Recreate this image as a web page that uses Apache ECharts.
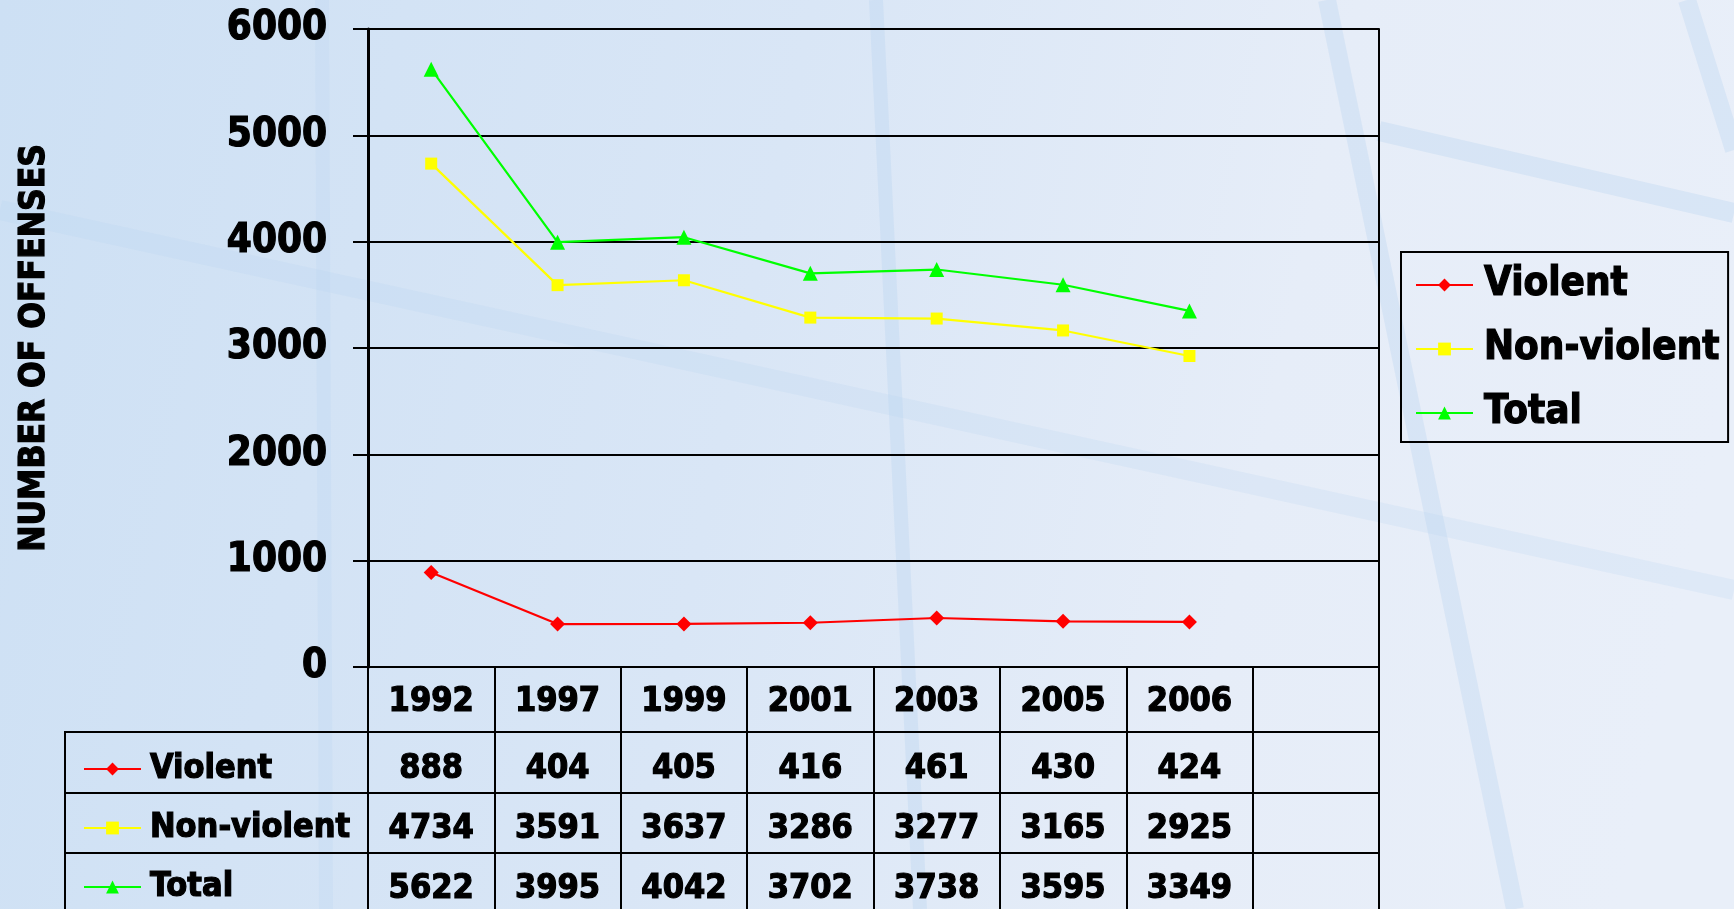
<!DOCTYPE html>
<html>
<head>
<meta charset="utf-8">
<script src="https://cdn.jsdelivr.net/npm/echarts@6/dist/echarts.min.js"></script>
<style>
  html, body { margin: 0; padding: 0; }
  #chart { width: 1734px; height: 909px; }
</style>
</head>
<body>
<div id="chart"></div>
<script>
// data
const years = ['1992', '1997', '1999', '2001', '2003', '2005', '2006', ''];
const violent = [888, 404, 405, 416, 461, 430, 424];
const nonViolent = [4734, 3591, 3637, 3286, 3277, 3165, 2925];
const total = [5622, 3995, 4042, 3702, 3738, 3595, 3349];
const seriesNames = ['Violent', 'Non-violent', 'Total'];
const seriesColors = ['#ff0000', '#ffff00', '#00ff00'];
const seriesSymbols = ['diamond', 'rect', 'triangle'];
const symbolSizes = [15, 12, 15];

const FONT = '"DejaVu Sans Condensed", "DejaVu Sans", sans-serif';

const chart = echarts.init(document.getElementById('chart'));

// one axis per table row, offsets match the row heights
const tableRows = [
  { data: years, offset: 0, tick: 65, margin: 35 },
  { data: violent.map(String).concat(''), offset: 65, tick: 61, margin: 37 },
  { data: nonViolent.map(String).concat(''), offset: 126, tick: 60, margin: 36 },
  { data: total.map(String).concat(''), offset: 186, tick: 70, margin: 36 }
];

const xAxes = tableRows.map((r) => ({
  type: 'category',
  position: 'bottom',
  offset: r.offset,
  data: r.data,
  boundaryGap: true,
  axisLine: { show: true, onZero: false, lineStyle: { color: '#000', width: 2 } },
  axisTick: { show: true, interval: 0, length: r.tick, lineStyle: { color: '#000', width: 2 } },
  axisLabel: {
    interval: 0,
    color: '#000', fontFamily: FONT, fontWeight: 'bold', fontSize: 34,
    margin: r.margin, verticalAlign: 'middle',
    textBorderColor: '#000', textBorderWidth: 1.2
  },
  splitLine: { show: false }
}));

const dataSets = [violent, nonViolent, total];

const series = dataSets.map((d, i) => ({
  name: seriesNames[i],
  type: 'line',
  data: d,
  xAxisIndex: 0,
  yAxisIndex: 0,
  symbol: seriesSymbols[i],
  symbolSize: symbolSizes[i],
  color: seriesColors[i],
  lineStyle: { color: seriesColors[i], width: 2.2 },
  itemStyle: { color: seriesColors[i] },
  z: 5
}));

const frame = 'rgba(178, 210, 240, 0.3)';

chart.setOption({
  animation: false,
  backgroundColor: {
    type: 'linear', x: 0, y: 0, x2: 1, y2: 0.4,
    colorStops: [
      { offset: 0, color: '#cde0f4' },
      { offset: 0.45, color: '#d9e6f6' },
      { offset: 0.75, color: '#e6edf8' },
      { offset: 1, color: '#e9eff9' }
    ]
  },
  graphic: [
    // faint window frames of the backdrop
    { type: 'line', z: -10, shape: { x1: 876, y1: 0, x2: 920, y2: 909 }, style: { stroke: frame, lineWidth: 14 } },
    { type: 'line', z: -10, shape: { x1: 322, y1: 0, x2: 326, y2: 909 }, style: { stroke: 'rgba(178,210,240,0.2)', lineWidth: 14 } },
    { type: 'line', z: -10, shape: { x1: 1327, y1: 0, x2: 1515, y2: 909 }, style: { stroke: frame, lineWidth: 18 } },
    { type: 'line', z: -10, shape: { x1: 1687, y1: 0, x2: 1734, y2: 150 }, style: { stroke: frame, lineWidth: 18 } },
    { type: 'line', z: -10, shape: { x1: 1379, y1: 131, x2: 1734, y2: 213 }, style: { stroke: frame, lineWidth: 20 } },
    { type: 'line', z: -10, shape: { x1: 0, y1: 210, x2: 1734, y2: 590 }, style: { stroke: 'rgba(178,210,240,0.2)', lineWidth: 20 } },
    // left column of the data table
    { type: 'line', z: 3, shape: { x1: 64, y1: 732, x2: 368, y2: 732 }, style: { stroke: '#000', lineWidth: 2 } },
    { type: 'line', z: 3, shape: { x1: 64, y1: 793, x2: 368, y2: 793 }, style: { stroke: '#000', lineWidth: 2 } },
    { type: 'line', z: 3, shape: { x1: 64, y1: 853, x2: 368, y2: 853 }, style: { stroke: '#000', lineWidth: 2 } },
    { type: 'line', z: 3, shape: { x1: 65, y1: 731, x2: 65, y2: 909 }, style: { stroke: '#000', lineWidth: 2 } }
  ],
  legend: [
    {
      data: seriesNames,
      orient: 'vertical',
      left: 1401,
      top: 252,
      padding: [12, 8, 8, 14],
      itemGap: 22,
      itemWidth: 57,
      itemHeight: 16,
      borderColor: '#000',
      borderWidth: 2,
      selectedMode: false,
      textStyle: {
        color: '#000', fontFamily: FONT, fontWeight: 'bold', fontSize: 40, lineHeight: 42,
        padding: [0, 0, 0, 6], textBorderColor: '#000', textBorderWidth: 1.2
      }
    },
    {
      data: seriesNames,
      orient: 'vertical',
      left: 83,
      top: 751,
      padding: 0,
      itemGap: 23,
      itemWidth: 57,
      itemHeight: 16,
      selectedMode: false,
      textStyle: {
        color: '#000', fontFamily: FONT, fontWeight: 'bold', fontSize: 34, lineHeight: 36,
        padding: [0, 0, 0, 4], textBorderColor: '#000', textBorderWidth: 1.2
      }
    }
  ],
  grid: { left: 368, right: 355, top: 29, bottom: 242, containLabel: false },
  xAxis: xAxes,
  yAxis: [
    {
      type: 'value',
      min: 0,
      max: 6000,
      interval: 1000,
      name: 'NUMBER OF OFFENSES',
      nameLocation: 'middle',
      nameRotate: 90,
      nameGap: 316,
      nameTextStyle: {
        color: '#000', fontFamily: FONT, fontWeight: 'bold', fontSize: 35,
        textBorderColor: '#000', textBorderWidth: 1.2
      },
      axisLine: { show: true, onZero: false, lineStyle: { color: '#000', width: 3 } },
      axisTick: { show: true, length: 15, lineStyle: { color: '#000', width: 2 } },
      axisLabel: {
        color: '#000', fontFamily: FONT, fontWeight: 'bold', fontSize: 40, margin: 41,
        formatter: (v) => String(v),
        textBorderColor: '#000', textBorderWidth: 1.2
      },
      splitLine: { show: true, lineStyle: { color: '#000', width: 2 } }
    },
    {
      type: 'value',
      position: 'right',
      min: 0,
      max: 6000,
      interval: 1000,
      axisLine: { show: true, onZero: false, lineStyle: { color: '#000', width: 2 } },
      axisTick: { show: false },
      axisLabel: { show: false },
      splitLine: { show: false }
    }
  ],
  series: series
});
</script>
</body>
</html>
